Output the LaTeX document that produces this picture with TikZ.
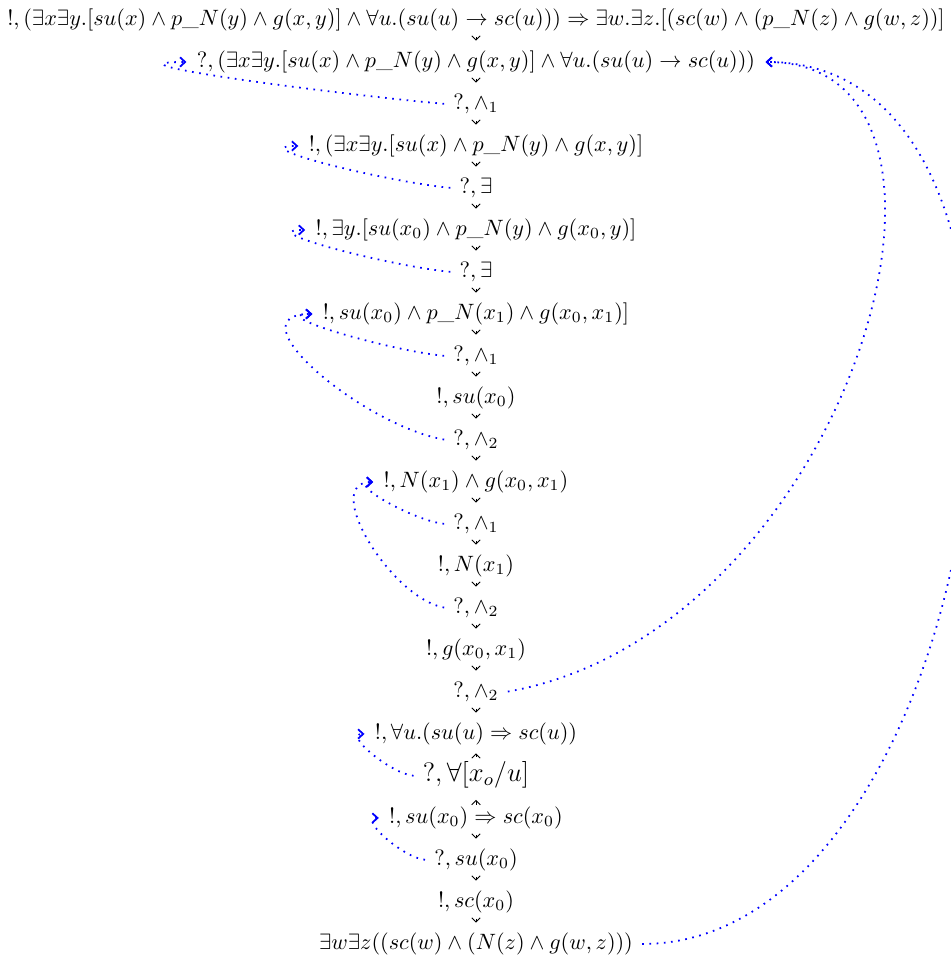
\documentclass[tikz,border=0pt]{standalone}
\usepackage{amsmath,amssymb}
\usepackage{xcolor}
\usepackage{tikz}
\usetikzlibrary{arrows.meta,positioning}
\newdimen\px
\px=0.4505pt

\begin{document}
\begin{tikzpicture}[
      node distance=4.52pt,
      fm/.style={inner xsep=3pt,inner ysep=2pt,text height=7.5pt,text depth=2.5pt},
      dn/.style={-{Straight Barb[length=1.9pt,width=3.8pt]},shorten <=0.4pt,shorten >=2.4pt},
      rise/.style={-{Straight Barb[length=1.9pt,width=3.8pt]},shorten <=1.5pt,shorten >=1.5pt},
      bk/.style={-{Straight Barb[length=2.3pt,width=4.2pt]},blue,line width=0.8pt,
                 dash pattern=on 0.75pt off 2.5pt,shorten <=1pt,shorten >=1.5pt}]
    \useasboundingbox (-476\px,20\px) rectangle (474\px,-945\px);
    \node[fm] (goal) at (0,0) {$!, (\exists x\exists y.[su(x)\wedge p\_N(y)\wedge g(x,y)]\wedge\forall u.(su(u)\rightarrow sc(u)))\Rightarrow\exists w.\exists z.[(sc(w)\wedge(p\_N(z)\wedge g(w,z))]$};
    \node[fm,below=of goal] (qprem) {$?, (\exists x\exists y.[su(x)\wedge p\_N(y)\wedge g(x,y)]\wedge\forall u.(su(u)\rightarrow sc(u)))$};
    \node[fm,below=of qprem] (qand) {$?, \wedge_1$};
    \node[fm,below=of qand] (bex) {$!, (\exists x\exists y.[su(x)\wedge p\_N(y)\wedge g(x,y)]$};
    \node[fm,below=of bex] (qex) {$?, \exists$};
    \node[fm,below=of qex] (bexy) {$!, \exists y.[su(x_0)\wedge p\_N(y)\wedge g(x_0,y)]$};
    \node[fm,below=of bexy] (qexy) {$?, \exists$};
    \node[fm,below=of qexy] (bconj) {$!, su(x_0)\wedge p\_N(x_1)\wedge g(x_0,x_1)]$};
    \node[fm,below=of bconj] (qandA) {$?, \wedge_1$};
    \node[fm,below=of qandA] (bsu) {$!, su(x_0)$};
    \node[fm,below=of bsu] (qandB) {$?, \wedge_2$};
    \node[fm,below=of qandB] (bng) {$!, N(x_1)\wedge g(x_0,x_1)$};
    \node[fm,below=of bng] (qandC) {$?, \wedge_1$};
    \node[fm,below=of qandC] (bn) {$!, N(x_1)$};
    \node[fm,below=of bn] (qandD) {$?, \wedge_2$};
    \node[fm,below=of qandD] (bg) {$!, g(x_0,x_1)$};
    \node[fm,below=of bg] (qandE) {$?, \wedge_2$};
    \node[fm,below=of qandE] (ball) {$!, \forall u.(su(u)\Rightarrow sc(u))$};
    \node[fm,below=of ball,font=\large] (qall) {$?, \forall[x_o/u]$};
    \node[fm,below=of qall] (bimp) {$!, su(x_0)\Rightarrow sc(x_0)$};
    \node[fm,below=of bimp] (qsu) {$?, su(x_0)$};
    \node[fm,below=of qsu] (bsc) {$!, sc(x_0)$};
    \node[fm,below=of bsc] (concl) {$\exists w\exists z((sc(w)\wedge(N(z)\wedge g(w,z)))$};
    % the proof steps
    \draw[dn] (goal) -- (qprem);
    \draw[dn] (qprem) -- (qand);
    \draw[dn] (qand) -- (bex);
    \draw[dn] (bex) -- (qex);
    \draw[dn] (qex) -- (bexy);
    \draw[dn] (bexy) -- (qexy);
    \draw[dn] (qexy) -- (bconj);
    \draw[dn] (bconj) -- (qandA);
    \draw[dn] (qandA) -- (bsu);
    \draw[dn] (bsu) -- (qandB);
    \draw[dn] (qandB) -- (bng);
    \draw[dn] (bng) -- (qandC);
    \draw[dn] (qandC) -- (bn);
    \draw[dn] (bn) -- (qandD);
    \draw[dn] (qandD) -- (bg);
    \draw[dn] (bg) -- (qandE);
    \draw[dn] (qandE) -- (ball);
    \draw[rise] (qall) -- (ball);
    \draw[rise,shorten <=-1.2pt,shorten >=3.6pt] (bimp) -- (qall);
    \draw[dn] (bimp) -- (qsu);
    \draw[dn] (qsu) -- (bsc);
    \draw[dn] (bsc) -- (concl);
    % back links
    \draw[bk] (qand.west) to[out=175,in=180] (qprem.west);
    \draw[bk] (qex.west) to[out=175,in=180] (bex.west);
    \draw[bk] (qexy.west) to[out=175,in=180] (bexy.west);
    \draw[bk] (qandA.west) to[out=175,in=180] (bconj.west);
    \draw[bk] (qandB.west) to[out=170,in=180,looseness=1.2] (bconj.west);
    \draw[bk] (qandC.west) to[out=175,in=180] (bng.west);
    \draw[bk] (qandD.west) to[out=170,in=180] (bng.west);
    \draw[bk] (qall.west) to[out=175,in=180] (ball.west);
    \draw[bk] (qsu.west) to[out=175,in=180] (bimp.west);
    \draw[bk] (qandE.east) to[out=10,in=0,out distance=350\px,in distance=250\px] (qprem.east);
    \draw[bk] (concl.east) to[out=0,in=0] (qprem.east);
  \end{tikzpicture}
\end{document}
